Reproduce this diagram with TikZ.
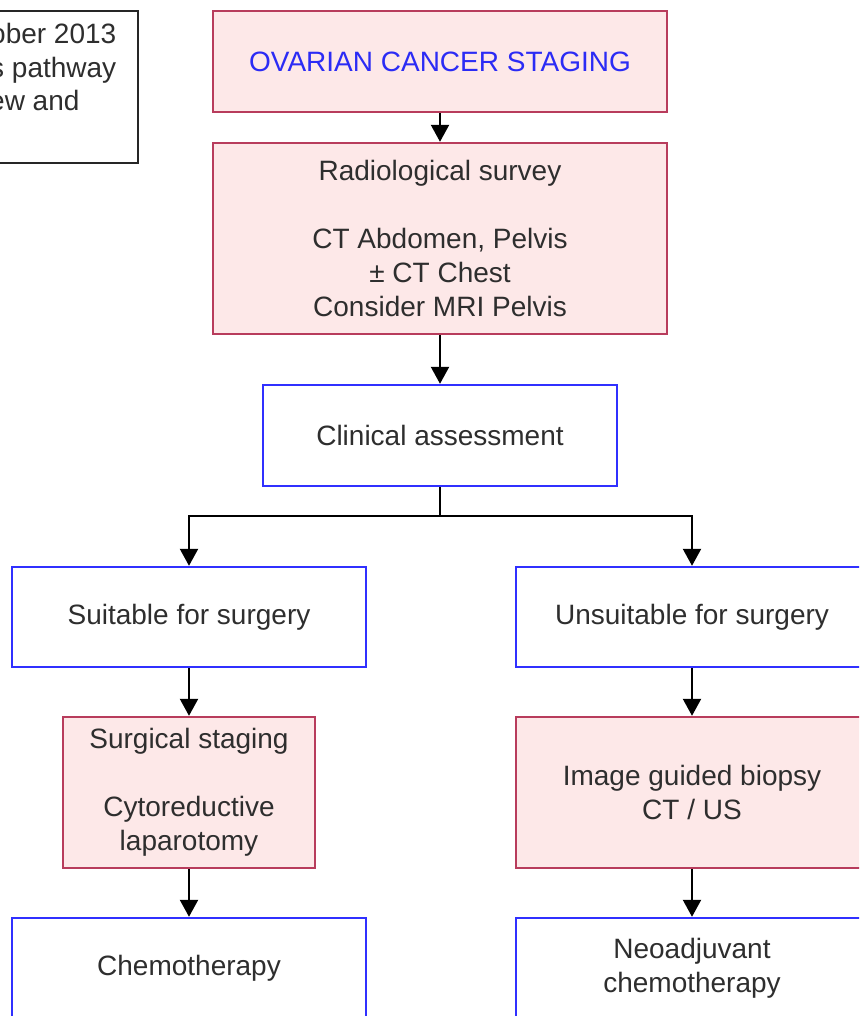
\documentclass[tikz,border=0pt]{standalone}
\usepackage{fontspec}
\setmainfont{Liberation Sans}
\usetikzlibrary{arrows.meta,positioning}
\definecolor{pinkfill}{HTML}{FDE8E8}
\definecolor{pinkline}{HTML}{B83C5C}
\definecolor{blueline}{HTML}{3030FF}
\definecolor{txt}{HTML}{2E2E2E}
\definecolor{titleblue}{HTML}{2B2BF5}
\tikzset{
  base/.style={rectangle, inner sep=0pt, line width=2.4pt, align=center, text=txt,
    font=\fontsize{28}{34}\selectfont},
  pinkbox/.style={base, draw=pinkline, fill=pinkfill},
  bluebox/.style={base, draw=blueline, fill=white},
  arr/.style={line width=2.2pt, draw=black, -{Triangle[length=17pt,width=18pt]}},
  ln/.style={line width=2.2pt, draw=black},
  notetext/.style={anchor=base west, inner sep=0pt, text=txt, font=\fontsize{28}{34}\selectfont}
}
\begin{document}
\begin{tikzpicture}[x=1pt,y=-1pt]
\useasboundingbox (0,0) rectangle (859,1016);
\clip (0,0) rectangle (859,1016);

% note box (cut off at the left, as in the reference)
\node[base, draw=black!85, fill=white, minimum width=340pt, minimum height=152pt] (note) at (-32,87) {};
\node[notetext] (n1) at (-10,44) {ober 2013};
\node[notetext] (n2) at (-10,78) {s pathway};
\node[notetext] (n3) at (-11,111) {ew and};

% main column
\node[pinkbox, minimum width=454pt, minimum height=101pt, text=titleblue] (title) at (440,61.5) {OVARIAN CANCER STAGING};
\node[pinkbox, minimum width=454pt, minimum height=191pt] (radio) at (440,238.5)
  {Radiological survey\\[34pt]CT Abdomen, Pelvis\\± CT Chest\\Consider MRI Pelvis};
\node[bluebox, minimum width=354pt, minimum height=101pt] (clin) at (440,435.5) {Clinical assessment};
\coordinate (j) at (440,516);

% left column
\node[bluebox, minimum width=354pt, minimum height=100pt] (suit) at (189,617) {Suitable for surgery};
\node[pinkbox, minimum width=252pt, minimum height=151pt] (surg) at (189,792.5)
  {Surgical staging\\[34pt]Cytoreductive\\laparotomy};
\node[bluebox, minimum width=354pt, minimum height=100pt] (chemo) at (189,968) {Chemotherapy};

% right column
\node[bluebox, minimum width=352pt, minimum height=100pt] (unsuit) at (692,617) {Unsuitable for surgery};
\node[pinkbox, minimum width=352pt, minimum height=151pt] (biopsy) at (692,792.5)
  {Image guided biopsy\\CT / US};
\node[bluebox, minimum width=352pt, minimum height=100pt] (neo) at (692,968) {Neoadjuvant\\chemotherapy};

% connectors
\draw[arr] (title.south) -- (radio.north);
\draw[arr] (radio.south) -- (clin.north);
\draw[ln] (clin.south) -- (j);
\draw[arr] (j) -| (suit.north);
\draw[arr] (j) -| (unsuit.north);
\draw[arr] (suit.south) -- (surg.north);
\draw[arr] (surg.south) -- (chemo.north);
\draw[arr] (unsuit.south) -- (biopsy.north);
\draw[arr] (biopsy.south) -- (neo.north);
\end{tikzpicture}
\end{document}
